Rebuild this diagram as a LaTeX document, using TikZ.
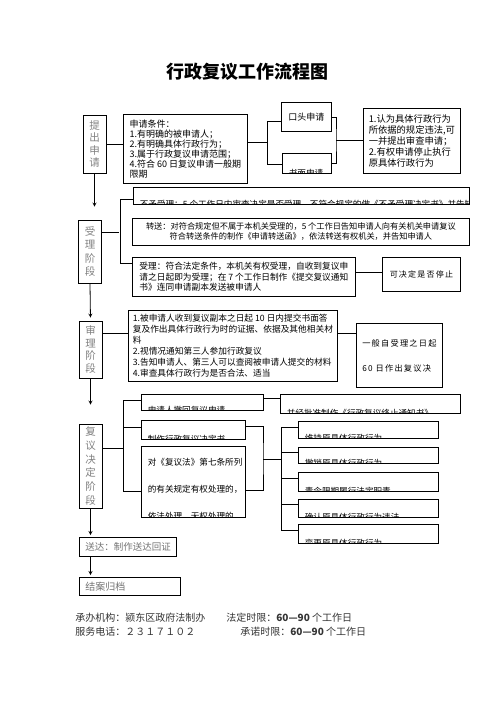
\documentclass[tikz,border=0pt]{standalone}
\usepackage{fontspec}
\setmainfont{Noto Sans CJK SC}
\newfontfamily\spacedfont[LetterSpace=15]{Noto Sans CJK SC}
\begin{document}
\begin{tikzpicture}[x=1pt, y=-1pt, >=stealth, line width=0.8pt,
  stage/.style={draw, text=black!50, align=center, minimum width=23pt, inner sep=1pt, font=\fontsize{10.5}{13}\selectfont},
  box/.style={draw, anchor=north west, align=left, inner sep=2pt, font=\fontsize{9}{10}\selectfont},
  cuttext/.style={draw=none, anchor=base west, inner sep=0pt, minimum width=0pt, minimum height=0pt, font=\fontsize{8.6}{10}\selectfont},
  cutbox/.style={draw, anchor=north west, inner sep=0pt, path picture={\node[cuttext] at ([shift={(6pt,-3.5pt)}]path picture bounding box.south west) {#1};}},
  endbox/.style={draw, anchor=north west, text=black!55, inner xsep=6pt, align=left, font=\fontsize{9.5}{11}\selectfont},
  foot/.style={anchor=west, inner sep=0pt, text=black!80, font=\fontsize{10}{12}\selectfont},
  arr/.style={->, shorten >=#1}]
  \useasboundingbox (0,0) rectangle (496,702);

  \node (title) [font=\fontsize{18}{20}\selectfont\bfseries] at (247,72) {行政复议工作流程图};

  % stages on the left
  \node (s1) [stage, minimum height=58pt, font=\fontsize{10.5}{12.5}\selectfont] at (94.5,144) {提\\出\\申\\请};
  \node (s2) [stage, minimum height=63pt, font=\fontsize{10.5}{13.5}\selectfont] at (90,251.5) {受\\理\\阶\\段};
  \node (s3) [stage, minimum height=57pt, font=\fontsize{10.5}{12.5}\selectfont] at (90.5,349.5) {审\\理\\阶\\段};
  \node (s4) [stage, minimum height=84pt, font=\fontsize{10.5}{13.8}\selectfont] at (90.5,466) {复\\议\\决\\定\\阶\\段};
  \node (sd) [endbox, minimum width=97pt, minimum height=19pt, text width=85pt] at (79,537) {送达：制作送达回证};
  \node (ja) [endbox, minimum width=101pt, minimum height=18pt, text width=89pt, font=\fontsize{10}{11}\selectfont] at (79,577) {结案归档};

  \draw[arr=13pt] (s1.south) -- (s1.south |- s2.north);
  \draw[arr=3pt] (s2.south) -- (s3.north);
  \draw[arr=19pt] (s3.south) -- (s4.north);
  \draw[arr=2pt] (s4.south) -- (s4.south |- sd.north);
  \draw[arr=2pt] (s4.south |- sd.south) -- (s4.south |- ja.north);

  % application
  \node (c1) [box, minimum width=124pt, minimum height=69pt] at (123,114) {申请条件：\\1.有明确的被申请人；\\2.有明确具体行政行为；\\3.属于行政复议申请范围；\\4.符合 60 日复议申请一般期\\限期};
  \node (k1) [draw, anchor=north west, minimum width=50pt, minimum height=29pt, font=\fontsize{9}{10}\selectfont] at (281,102) {口头申请};
  \node (k2) [cutbox={书面申请}, minimum width=49pt, minimum height=20pt] at (282,153) {};
  \node (r1) [box, minimum width=97pt, minimum height=65pt, font=\fontsize{9.3}{10.8}\selectfont] at (363,108) {1.认为具体行政行为\\所依据的规定违法,可\\一并提出审查申请；\\2.有权申请停止执行\\原具体行政行为};

  \draw (s1.east) -- (s1.east -| c1.west);
  \draw ([yshift=7pt]c1.east) -- ++(20,0) coordinate (j1) |- ([yshift=-4.5pt]k1.west);
  \draw (j1) |- ([yshift=-1pt]k2.west);
  \coordinate (j2) at (336,140);
  \draw (k1.east) -| (j2) |- (k2.east);
  \draw (j2) -- (j2 -| r1.west);

  % acceptance
  \node (a1) [cutbox={不予受理：5 个工作日内审查决定是否受理，不符合规定的做《不予受理决定书》并告知}, minimum width=336pt, minimum height=17pt] at (133,187) {};
  \node (a2) [draw, anchor=north west, minimum width=337pt, minimum height=27pt, align=center, inner sep=1pt, font=\fontsize{8.2}{10}\selectfont] at (132,218) {转送：对符合规定但不属于本机关受理的，5 个工作日告知申请人向有关机关申请复议\\符合转送条件的制作《申请转送函》，依法转送有权机关，并告知申请人};
  \node (a3) [box, minimum width=223pt, minimum height=39pt, font=\fontsize{8.7}{10.5}\selectfont] at (132,257) {受理：符合法定条件，本机关有权受理，自收到复议申\\请之日起即为受理；在 7 个工作日制作《提交复议通知\\书》连同申请副本发送被申请人};
  \node (a4) [draw, anchor=north west, minimum width=78pt, minimum height=34pt, font=\spacedfont\fontsize{8}{10}\selectfont] at (382,257) {可决定是否停止};

  \draw ([yshift=19.5pt]s2.east) -- ++(17,0);
  \draw ([yshift=-3.5pt]a1.west) -- ++(-13,0) |- ([yshift=13.5pt]a3.west);
  \draw ([yshift=5pt]a3.east) -- ([yshift=5pt]a3.east -| a4.west);

  % review
  \node (b1) [box, minimum width=209pt, minimum height=71pt, font=\fontsize{8.7}{11}\selectfont] at (128,310) {1.被申请人收到复议副本之日起 10 日内提交书面答\\复及作出具体行政行为时的证据、依据及其他相关材\\料\\2.视情况通知第三人参加行政复议\\3.告知申请人、第三人可以查阅被申请人提交的材料\\4.审查具体行政行为是否合法、适当};
  \node (b2) [draw, anchor=north west, minimum width=86pt, minimum height=64pt, align=left, font=\spacedfont\fontsize{8.2}{25}\selectfont] at (356,323) {一般自受理之日起\\60 日作出复议决};

  \draw ([yshift=16.5pt]s3.east) -- ([yshift=16.5pt]s3.east -| b1.west);
  \draw ([yshift=12.5pt]b1.east) -- ([yshift=12.5pt]b1.east -| b2.west);

  % decision
  \node (dA) [cutbox={申请人撤回复议申请}, minimum width=122pt, minimum height=16pt] at (141,394) {};
  \node (dA2) [cutbox={并经批准制作《行政复议终止通知书》}, minimum width=180pt, minimum height=19pt] at (280,394) {};
  \node (dB) [cutbox={制作行政复议决定书}, minimum width=104pt, minimum height=19pt] at (141,420) {};
  \node (dC) [draw, anchor=north west, minimum width=104pt, minimum height=71pt, path picture={\node[cuttext, anchor=north west, align=left, font=\fontsize{8.6}{27}\selectfont] at ([shift={(6pt,-11pt)}]path picture bounding box.north west) {对《复议法》第七条所列\\的有关规定有权处理的，\\依法处理，无权处理的};}] at (141,446) {};
  \node (D1) [cutbox={维持原具体行政行为}, minimum width=140pt, minimum height=17pt] at (298,421) {};
  \node (D2) [cutbox={撤销原具体行政行为}, minimum width=140pt, minimum height=16pt] at (298,447) {};
  \node (D3) [cutbox={责令限期履行法定职责}, minimum width=140pt, minimum height=19pt] at (298,472) {};
  \node (D4) [cutbox={确认原具体行政行为违法}, minimum width=140pt, minimum height=18pt] at (298,499) {};
  \node (D5) [cutbox={变更原具体行政行为}, minimum width=140pt, minimum height=19pt] at (298,524) {};

  \draw ([yshift=18pt]s4.east) -- ++(21,0);
  \draw ([yshift=2pt]dA.west) -- ++(-18,0) |- ([yshift=-9.5pt]dC.west);
  \draw ([yshift=2.5pt]dB.west) -- ++(-18,0);
  \draw ([yshift=4pt]dA.east) -- ([yshift=4pt]dA.east -| dA2.west);
  \coordinate (j5) at (263,459);
  \draw ([yshift=3.5pt]dB.east) -| (j5) |- ([yshift=-8.5pt]dC.east);
  \draw (j5) -- ++(18,0);
  \draw ([yshift=-6pt]D1.north west) -- ++(-17,0) |- ([yshift=-6pt]D5.north west);
  \draw ([yshift=-5pt]D2.north west) -- ++(-17,0);
  \draw ([yshift=-6pt]D3.north west) -- ++(-17,0);
  \draw ([yshift=-5pt]D4.north west) -- ++(-17,0);

  % footer
  \node (org) [foot] at (75,618) {承办机构：颍东区政府法制办};
  \node (lim) [foot] at (226,618) {法定时限：\textbf{60—90} 个工作日};
  \node (tel) [foot] at (75,632) {服务电话：２３１７１０２};
  \node (pro) [foot] at (240,632) {承诺时限：\textbf{60—90} 个工作日};
\end{tikzpicture}
\end{document}
